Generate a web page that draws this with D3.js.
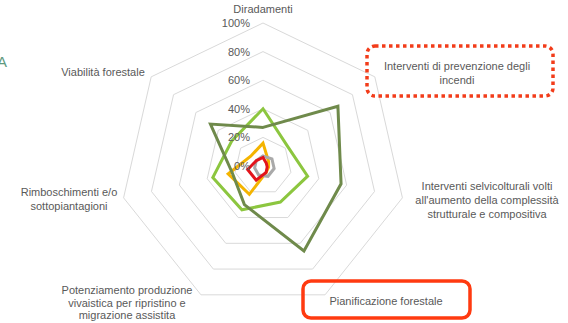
<!DOCTYPE html>
<html><head><meta charset="utf-8">
<script src="https://cdn.jsdelivr.net/npm/d3@7"></script>
<style>
html,body{margin:0;padding:0;background:#fff;}
svg{display:block;font-family:"Liberation Sans",Arial,sans-serif;}
</style></head>
<body>
<script>
const categories = [
  ["Diradamenti"],
  ["Interventi di prevenzione degli","incendi"],
  ["Interventi selvicolturali volti","all'aumento della complessità","strutturale e compositiva"],
  ["Pianificazione forestale"],
  ["Potenziamento produzione","vivaistica per ripristino e","migrazione assistita"],
  ["Rimboschimenti e/o","sottopiantagioni"],
  ["Viabilità forestale"]
];
const tickValues = [0, 20, 40, 60, 80, 100];
const tickLabels = ["0%", "20%", "40%", "60%", "80%", "100%"];
const seriesDarkGreen  = [27, 67, 56, 66, 30, 22, 47];
const seriesLightGreen = [40, 22, 32, 28, 34, 36, 28];
const seriesYellow     = [16, 5, 4, 5, 22, 25, 11];
const seriesGrey       = [7, 8, 8, 8, 7, 6, 6];
const seriesRed        = [6, 3, 3, 5, 11, 11, 6];

const W = 568, H = 323, cx = 263, cy = 166, R = 143;
const svg = d3.select("body").append("svg").attr("width", W).attr("height", H);

const r = d3.scaleLinear().domain([0, 100]).range([0, R]);
const n = categories.length;
const ang = d3.scaleLinear().domain([0, n]).range([0, 2 * Math.PI]);
const pt = (i, v) => [cx + r(v) * Math.sin(ang(i)), cy - r(v) * Math.cos(ang(i))];

// grid rings
const ring = d3.line().curve(d3.curveLinearClosed);
tickValues.filter(t => t > 0).forEach(t => {
  svg.append("path")
    .attr("d", ring(d3.range(n).map(i => pt(i, t))))
    .attr("fill", "none").attr("stroke", "#d9d9d9").attr("stroke-width", 1);
});

// series
const series = [
  {values: seriesYellow, color: "#f4b400"},
  {values: seriesLightGreen, color: "#8cc63f"},
  {values: seriesDarkGreen, color: "#6f8a4b"},
  {values: seriesGrey, color: "#a9a9a9"},
  {values: seriesRed, color: "#e3141b"}
];
series.forEach(s => {
  svg.append("path")
    .attr("d", ring(s.values.map((v, i) => pt(i, v))))
    .attr("fill", "none").attr("stroke", s.color).attr("stroke-width", 3)
    .attr("stroke-linejoin", "miter");
});

// tick labels
tickValues.forEach((t, k) => {
  svg.append("text")
    .attr("x", cx - 13).attr("y", cy - r(t) + 4)
    .attr("text-anchor", "end").attr("font-size", 11).attr("fill", "#595959")
    .text(tickLabels[k]);
});

// category labels (anchor layout)
const labelPos = [
  [263, 13], [457, 70], [487, 190], [386, 305], [127, 294], [69, 196], [103, 76]
];
const lineH = [0, 13.5, 14, 0, 12.5, 14, 0];
categories.forEach((lines, i) => {
  const t = svg.append("text")
    .attr("x", labelPos[i][0]).attr("y", labelPos[i][1])
    .attr("text-anchor", "middle").attr("font-size", 11).attr("fill", "#595959");
  lines.forEach((l, j) => {
    t.append("tspan").attr("x", labelPos[i][0]).attr("dy", j === 0 ? 0 : lineH[i]).text(l);
  });
});

// highlight boxes
svg.append("rect").attr("x", 367).attr("y", 46).attr("width", 186).attr("height", 50)
  .attr("rx", 8).attr("fill", "none").attr("stroke", "#f23c1a")
  .attr("stroke-width", 3.5).attr("stroke-dasharray", "3.5,3.5");
svg.append("rect").attr("x", 303).attr("y", 281).attr("width", 167).attr("height", 37)
  .attr("rx", 8).attr("fill", "none").attr("stroke", "#ff3a10")
  .attr("stroke-width", 3.5);

// clipped title fragment
svg.append("text").attr("x", -3).attr("y", 67).attr("font-size", 15)
  .attr("fill", "#5e9a80").text("A");
</script>
</body></html>
